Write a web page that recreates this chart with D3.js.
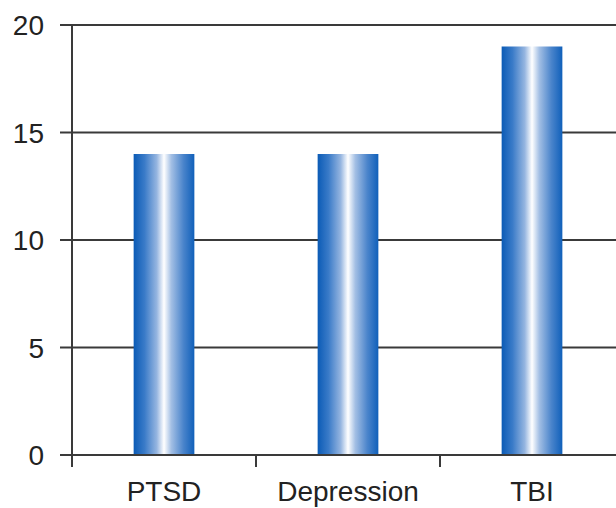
<!DOCTYPE html>
<html><head><meta charset="utf-8">
<script src="https://cdn.jsdelivr.net/npm/d3@7"></script>
<style>body{margin:0;background:#fff}svg{display:block}</style>
</head><body>
<svg id="c" width="616" height="508"></svg>
<script>
const categories = ["PTSD", "Depression", "TBI"];
const values = [14, 14, 19];
const yTicks = [0, 5, 10, 15, 20];

const svg = d3.select("#c");
const x = d3.scaleBand().domain(categories).range([72, 624]).paddingInner(0.67).paddingOuter(0.335);
const y = d3.scaleLinear().domain([0, 20]).range([455, 25]);
const font = "'Liberation Sans', Arial, Helvetica, sans-serif";
const lineCol = "#3a3a3a";

const defs = svg.append("defs");
const g = defs.append("linearGradient").attr("id", "bg").attr("x1", "0%").attr("x2", "100%").attr("y1", "0%").attr("y2", "0%");
[[0, "#0b5bb6"], [0.18, "#3a7bc8"], [0.38, "#95b5e0"], [0.5, "#ffffff"], [0.62, "#a3bfe4"], [0.82, "#4a84cb"], [1, "#1060ba"]]
  .forEach(([o, c]) => g.append("stop").attr("offset", o).attr("stop-color", c));

// gridlines
svg.append("g").selectAll("line").data(yTicks.filter(d => d > 0)).join("line")
  .attr("x1", 60).attr("x2", 616).attr("y1", d => y(d)).attr("y2", d => y(d))
  .attr("stroke", lineCol).attr("stroke-width", 2);

// bars
svg.append("g").selectAll("rect").data(categories).join("rect")
  .attr("x", d => x(d)).attr("width", x.bandwidth())
  .attr("y", (d, i) => y(values[i])).attr("height", (d, i) => y(0) - y(values[i]))
  .attr("fill", "url(#bg)");

// baseline
svg.append("line").attr("x1", 60).attr("x2", 616).attr("y1", y(0)).attr("y2", y(0))
  .attr("stroke", lineCol).attr("stroke-width", 2);
// y axis line
svg.append("line").attr("x1", 72).attr("x2", 72).attr("y1", y(20)).attr("y2", y(0) + 12)
  .attr("stroke", lineCol).attr("stroke-width", 2);

// category boundary ticks
const step = x.step();
svg.append("g").selectAll("line").data(categories.slice(0, 2)).join("line")
  .attr("x1", d => x(d) + x.bandwidth() / 2 + step / 2).attr("x2", d => x(d) + x.bandwidth() / 2 + step / 2)
  .attr("y1", y(0)).attr("y2", y(0) + 12).attr("stroke", lineCol).attr("stroke-width", 2);

// y labels
svg.append("g").selectAll("text").data(yTicks).join("text")
  .attr("x", 44).attr("y", d => y(d) + 10).attr("text-anchor", "end")
  .attr("font-family", font).attr("font-size", 28).attr("fill", "#222").text(d => d);

// x labels
svg.append("g").selectAll("text").data(categories).join("text")
  .attr("x", d => x(d) + x.bandwidth() / 2).attr("y", 501).attr("text-anchor", "middle")
  .attr("font-family", font).attr("font-size", 28).attr("fill", "#222").text(d => d);
</script>
</body></html>
